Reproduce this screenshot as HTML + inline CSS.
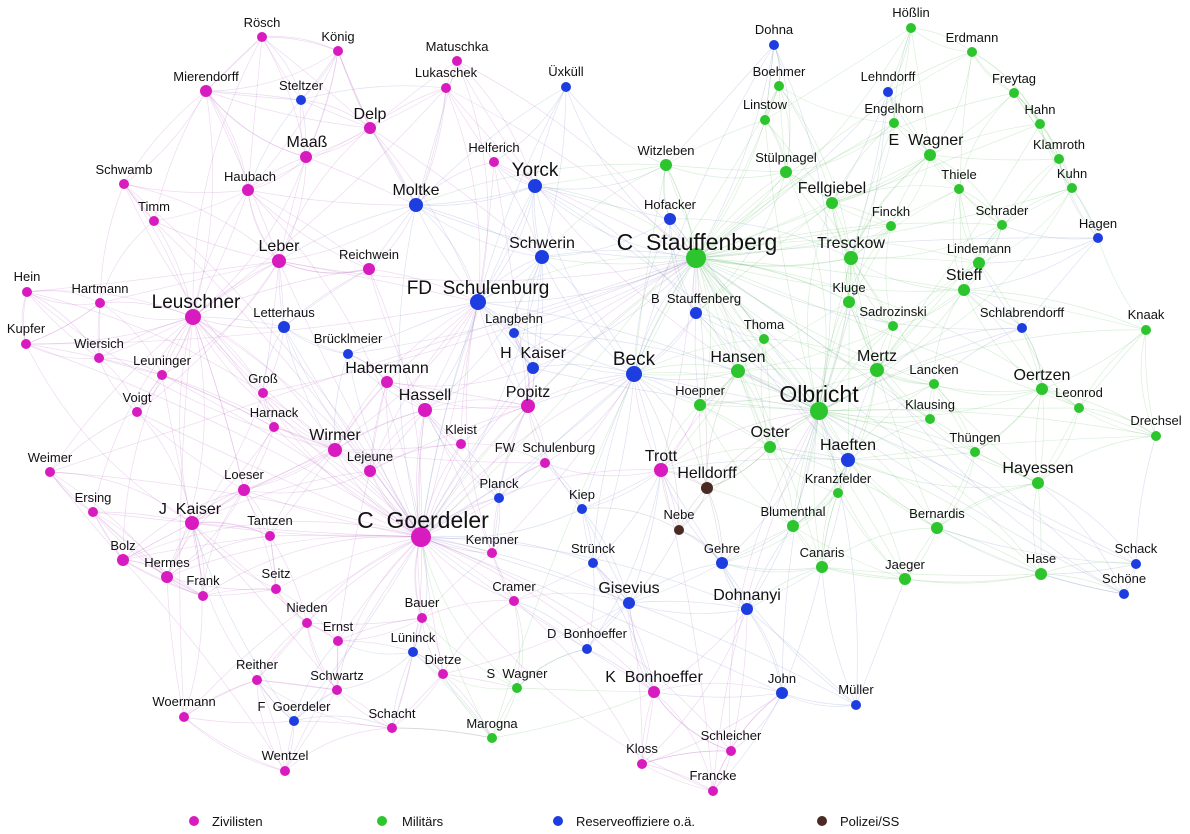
<!DOCTYPE html>
<html><head><meta charset="utf-8"><style>
html,body{margin:0;padding:0;background:#fff}
svg{display:block}
text{font-family:"Liberation Sans",Arial,sans-serif;fill:#111;text-anchor:middle;white-space:pre}
.s{font-size:13px}.m{font-size:16px}.l{font-size:19px}.xl{font-size:23px}
</style></head><body>
<svg id="g" width="1190" height="834" viewBox="0 0 1190 834" xmlns="http://www.w3.org/2000/svg">
<g id="edges" fill="none"></g>
<g id="nodes">
<circle cx="262" cy="37" r="5" fill="#d81bbf"/><text class="s" x="262" y="27">Rösch</text>
<circle cx="338" cy="51" r="5" fill="#d81bbf"/><text class="s" x="338" y="41">König</text>
<circle cx="457" cy="61" r="5" fill="#d81bbf"/><text class="s" x="457" y="51">Matuschka</text>
<circle cx="206" cy="91" r="6" fill="#d81bbf"/><text class="s" x="206" y="81">Mierendorff</text>
<circle cx="446" cy="88" r="5" fill="#d81bbf"/><text class="s" x="446" y="77">Lukaschek</text>
<circle cx="370" cy="128" r="6" fill="#d81bbf"/><text class="m" x="370" y="119">Delp</text>
<circle cx="306" cy="157" r="6" fill="#d81bbf"/><text class="m" x="307" y="147">Maaß</text>
<circle cx="494" cy="162" r="5" fill="#d81bbf"/><text class="s" x="494" y="152">Helferich</text>
<circle cx="124" cy="184" r="5" fill="#d81bbf"/><text class="s" x="124" y="174">Schwamb</text>
<circle cx="248" cy="190" r="6" fill="#d81bbf"/><text class="s" x="250" y="181">Haubach</text>
<circle cx="154" cy="221" r="5" fill="#d81bbf"/><text class="s" x="154" y="211">Timm</text>
<circle cx="279" cy="261" r="7" fill="#d81bbf"/><text class="m" x="279" y="251">Leber</text>
<circle cx="369" cy="269" r="6" fill="#d81bbf"/><text class="s" x="369" y="259">Reichwein</text>
<circle cx="27" cy="292" r="5" fill="#d81bbf"/><text class="s" x="27" y="281">Hein</text>
<circle cx="100" cy="303" r="5" fill="#d81bbf"/><text class="s" x="100" y="293">Hartmann</text>
<circle cx="193" cy="317" r="8" fill="#d81bbf"/><text class="l" x="196" y="308">Leuschner</text>
<circle cx="26" cy="344" r="5" fill="#d81bbf"/><text class="s" x="26" y="333">Kupfer</text>
<circle cx="99" cy="358" r="5" fill="#d81bbf"/><text class="s" x="99" y="348">Wiersich</text>
<circle cx="162" cy="375" r="5" fill="#d81bbf"/><text class="s" x="162" y="365">Leuninger</text>
<circle cx="387" cy="382" r="6" fill="#d81bbf"/><text class="m" x="387" y="373">Habermann</text>
<circle cx="263" cy="393" r="5" fill="#d81bbf"/><text class="s" x="263" y="383">Groß</text>
<circle cx="137" cy="412" r="5" fill="#d81bbf"/><text class="s" x="137" y="402">Voigt</text>
<circle cx="425" cy="410" r="7" fill="#d81bbf"/><text class="m" x="425" y="400">Hassell</text>
<circle cx="528" cy="406" r="7" fill="#d81bbf"/><text class="m" x="528" y="397">Popitz</text>
<circle cx="274" cy="427" r="5" fill="#d81bbf"/><text class="s" x="274" y="417">Harnack</text>
<circle cx="461" cy="444" r="5" fill="#d81bbf"/><text class="s" x="461" y="434">Kleist</text>
<circle cx="335" cy="450" r="7" fill="#d81bbf"/><text class="m" x="335" y="440">Wirmer</text>
<circle cx="370" cy="471" r="6" fill="#d81bbf"/><text class="s" x="370" y="461">Lejeune</text>
<circle cx="50" cy="472" r="5" fill="#d81bbf"/><text class="s" x="50" y="462">Weimer</text>
<circle cx="545" cy="463" r="5" fill="#d81bbf"/><text class="s" x="545" y="452">FW  Schulenburg</text>
<circle cx="661" cy="470" r="7" fill="#d81bbf"/><text class="m" x="661" y="461">Trott</text>
<circle cx="244" cy="490" r="6" fill="#d81bbf"/><text class="s" x="244" y="479">Loeser</text>
<circle cx="93" cy="512" r="5" fill="#d81bbf"/><text class="s" x="93" y="502">Ersing</text>
<circle cx="192" cy="523" r="7" fill="#d81bbf"/><text class="m" x="190" y="514">J  Kaiser</text>
<circle cx="270" cy="536" r="5" fill="#d81bbf"/><text class="s" x="270" y="525">Tantzen</text>
<circle cx="421" cy="537" r="10" fill="#d81bbf"/><text class="xl" x="423" y="528">C  Goerdeler</text>
<circle cx="492" cy="553" r="5" fill="#d81bbf"/><text class="s" x="492" y="544">Kempner</text>
<circle cx="123" cy="560" r="6" fill="#d81bbf"/><text class="s" x="123" y="550">Bolz</text>
<circle cx="167" cy="577" r="6" fill="#d81bbf"/><text class="s" x="167" y="567">Hermes</text>
<circle cx="203" cy="596" r="5" fill="#d81bbf"/><text class="s" x="203" y="585">Frank</text>
<circle cx="276" cy="589" r="5" fill="#d81bbf"/><text class="s" x="276" y="578">Seitz</text>
<circle cx="514" cy="601" r="5" fill="#d81bbf"/><text class="s" x="514" y="591">Cramer</text>
<circle cx="422" cy="618" r="5" fill="#d81bbf"/><text class="s" x="422" y="607">Bauer</text>
<circle cx="307" cy="623" r="5" fill="#d81bbf"/><text class="s" x="307" y="612">Nieden</text>
<circle cx="338" cy="641" r="5" fill="#d81bbf"/><text class="s" x="338" y="631">Ernst</text>
<circle cx="443" cy="674" r="5" fill="#d81bbf"/><text class="s" x="443" y="664">Dietze</text>
<circle cx="257" cy="680" r="5" fill="#d81bbf"/><text class="s" x="257" y="669">Reither</text>
<circle cx="337" cy="690" r="5" fill="#d81bbf"/><text class="s" x="337" y="680">Schwartz</text>
<circle cx="654" cy="692" r="6" fill="#d81bbf"/><text class="m" x="654" y="682">K  Bonhoeffer</text>
<circle cx="184" cy="717" r="5" fill="#d81bbf"/><text class="s" x="184" y="706">Woermann</text>
<circle cx="392" cy="728" r="5" fill="#d81bbf"/><text class="s" x="392" y="718">Schacht</text>
<circle cx="285" cy="771" r="5" fill="#d81bbf"/><text class="s" x="285" y="760">Wentzel</text>
<circle cx="642" cy="764" r="5" fill="#d81bbf"/><text class="s" x="642" y="753">Kloss</text>
<circle cx="731" cy="751" r="5" fill="#d81bbf"/><text class="s" x="731" y="740">Schleicher</text>
<circle cx="713" cy="791" r="5" fill="#d81bbf"/><text class="s" x="713" y="780">Francke</text>
<circle cx="774" cy="45" r="5" fill="#1d3de0"/><text class="s" x="774" y="34">Dohna</text>
<circle cx="566" cy="87" r="5" fill="#1d3de0"/><text class="s" x="566" y="76">Üxküll</text>
<circle cx="301" cy="100" r="5" fill="#1d3de0"/><text class="s" x="301" y="90">Steltzer</text>
<circle cx="888" cy="92" r="5" fill="#1d3de0"/><text class="s" x="888" y="81">Lehndorff</text>
<circle cx="535" cy="186" r="7" fill="#1d3de0"/><text class="l" x="535" y="176">Yorck</text>
<circle cx="416" cy="205" r="7" fill="#1d3de0"/><text class="m" x="416" y="195">Moltke</text>
<circle cx="670" cy="219" r="6" fill="#1d3de0"/><text class="s" x="670" y="209">Hofacker</text>
<circle cx="542" cy="257" r="7" fill="#1d3de0"/><text class="m" x="542" y="248">Schwerin</text>
<circle cx="1098" cy="238" r="5" fill="#1d3de0"/><text class="s" x="1098" y="228">Hagen</text>
<circle cx="478" cy="302" r="8" fill="#1d3de0"/><text class="l" x="478" y="294">FD  Schulenburg</text>
<circle cx="696" cy="313" r="6" fill="#1d3de0"/><text class="s" x="696" y="303">B  Stauffenberg</text>
<circle cx="284" cy="327" r="6" fill="#1d3de0"/><text class="s" x="284" y="317">Letterhaus</text>
<circle cx="514" cy="333" r="5" fill="#1d3de0"/><text class="s" x="514" y="323">Langbehn</text>
<circle cx="1022" cy="328" r="5" fill="#1d3de0"/><text class="s" x="1022" y="317">Schlabrendorff</text>
<circle cx="348" cy="354" r="5" fill="#1d3de0"/><text class="s" x="348" y="343">Brücklmeier</text>
<circle cx="533" cy="368" r="6" fill="#1d3de0"/><text class="m" x="533" y="358">H  Kaiser</text>
<circle cx="634" cy="374" r="8" fill="#1d3de0"/><text class="l" x="634" y="365">Beck</text>
<circle cx="848" cy="460" r="7" fill="#1d3de0"/><text class="m" x="848" y="450">Haeften</text>
<circle cx="499" cy="498" r="5" fill="#1d3de0"/><text class="s" x="499" y="488">Planck</text>
<circle cx="582" cy="509" r="5" fill="#1d3de0"/><text class="s" x="582" y="499">Kiep</text>
<circle cx="593" cy="563" r="5" fill="#1d3de0"/><text class="s" x="593" y="553">Strünck</text>
<circle cx="722" cy="563" r="6" fill="#1d3de0"/><text class="s" x="722" y="553">Gehre</text>
<circle cx="1136" cy="564" r="5" fill="#1d3de0"/><text class="s" x="1136" y="553">Schack</text>
<circle cx="629" cy="603" r="6" fill="#1d3de0"/><text class="m" x="629" y="593">Gisevius</text>
<circle cx="747" cy="609" r="6" fill="#1d3de0"/><text class="m" x="747" y="600">Dohnanyi</text>
<circle cx="1124" cy="594" r="5" fill="#1d3de0"/><text class="s" x="1124" y="583">Schöne</text>
<circle cx="587" cy="649" r="5" fill="#1d3de0"/><text class="s" x="587" y="638">D  Bonhoeffer</text>
<circle cx="413" cy="652" r="5" fill="#1d3de0"/><text class="s" x="413" y="642">Lüninck</text>
<circle cx="782" cy="693" r="6" fill="#1d3de0"/><text class="s" x="782" y="683">John</text>
<circle cx="856" cy="705" r="5" fill="#1d3de0"/><text class="s" x="856" y="694">Müller</text>
<circle cx="294" cy="721" r="5" fill="#1d3de0"/><text class="s" x="294" y="711">F  Goerdeler</text>
<circle cx="911" cy="28" r="5" fill="#2dc52d"/><text class="s" x="911" y="17">Hößlin</text>
<circle cx="972" cy="52" r="5" fill="#2dc52d"/><text class="s" x="972" y="42">Erdmann</text>
<circle cx="779" cy="86" r="5" fill="#2dc52d"/><text class="s" x="779" y="76">Boehmer</text>
<circle cx="1014" cy="93" r="5" fill="#2dc52d"/><text class="s" x="1014" y="83">Freytag</text>
<circle cx="765" cy="120" r="5" fill="#2dc52d"/><text class="s" x="765" y="109">Linstow</text>
<circle cx="894" cy="123" r="5" fill="#2dc52d"/><text class="s" x="894" y="113">Engelhorn</text>
<circle cx="1040" cy="124" r="5" fill="#2dc52d"/><text class="s" x="1040" y="114">Hahn</text>
<circle cx="1059" cy="159" r="5" fill="#2dc52d"/><text class="s" x="1059" y="149">Klamroth</text>
<circle cx="930" cy="155" r="6" fill="#2dc52d"/><text class="m" x="926" y="145">E  Wagner</text>
<circle cx="666" cy="165" r="6" fill="#2dc52d"/><text class="s" x="666" y="155">Witzleben</text>
<circle cx="786" cy="172" r="6" fill="#2dc52d"/><text class="s" x="786" y="162">Stülpnagel</text>
<circle cx="959" cy="189" r="5" fill="#2dc52d"/><text class="s" x="959" y="179">Thiele</text>
<circle cx="1072" cy="188" r="5" fill="#2dc52d"/><text class="s" x="1072" y="178">Kuhn</text>
<circle cx="832" cy="203" r="6" fill="#2dc52d"/><text class="m" x="832" y="193">Fellgiebel</text>
<circle cx="891" cy="226" r="5" fill="#2dc52d"/><text class="s" x="891" y="216">Finckh</text>
<circle cx="1002" cy="225" r="5" fill="#2dc52d"/><text class="s" x="1002" y="215">Schrader</text>
<circle cx="696" cy="258" r="10" fill="#2dc52d"/><text class="xl" x="697" y="250">C  Stauffenberg</text>
<circle cx="851" cy="258" r="7" fill="#2dc52d"/><text class="m" x="851" y="248">Tresckow</text>
<circle cx="979" cy="263" r="6" fill="#2dc52d"/><text class="s" x="979" y="253">Lindemann</text>
<circle cx="964" cy="290" r="6" fill="#2dc52d"/><text class="m" x="964" y="280">Stieff</text>
<circle cx="849" cy="302" r="6" fill="#2dc52d"/><text class="s" x="849" y="292">Kluge</text>
<circle cx="893" cy="326" r="5" fill="#2dc52d"/><text class="s" x="893" y="316">Sadrozinski</text>
<circle cx="1146" cy="330" r="5" fill="#2dc52d"/><text class="s" x="1146" y="319">Knaak</text>
<circle cx="764" cy="339" r="5" fill="#2dc52d"/><text class="s" x="764" y="329">Thoma</text>
<circle cx="738" cy="371" r="7" fill="#2dc52d"/><text class="m" x="738" y="362">Hansen</text>
<circle cx="877" cy="370" r="7" fill="#2dc52d"/><text class="m" x="877" y="361">Mertz</text>
<circle cx="934" cy="384" r="5" fill="#2dc52d"/><text class="s" x="934" y="374">Lancken</text>
<circle cx="1042" cy="389" r="6" fill="#2dc52d"/><text class="m" x="1042" y="380">Oertzen</text>
<circle cx="819" cy="411" r="9" fill="#2dc52d"/><text class="xl" x="819" y="402">Olbricht</text>
<circle cx="700" cy="405" r="6" fill="#2dc52d"/><text class="s" x="700" y="395">Hoepner</text>
<circle cx="1079" cy="408" r="5" fill="#2dc52d"/><text class="s" x="1079" y="397">Leonrod</text>
<circle cx="930" cy="419" r="5" fill="#2dc52d"/><text class="s" x="930" y="409">Klausing</text>
<circle cx="1156" cy="436" r="5" fill="#2dc52d"/><text class="s" x="1156" y="425">Drechsel</text>
<circle cx="770" cy="447" r="6" fill="#2dc52d"/><text class="m" x="770" y="437">Oster</text>
<circle cx="975" cy="452" r="5" fill="#2dc52d"/><text class="s" x="975" y="442">Thüngen</text>
<circle cx="1038" cy="483" r="6" fill="#2dc52d"/><text class="m" x="1038" y="473">Hayessen</text>
<circle cx="838" cy="493" r="5" fill="#2dc52d"/><text class="s" x="838" y="483">Kranzfelder</text>
<circle cx="937" cy="528" r="6" fill="#2dc52d"/><text class="s" x="937" y="518">Bernardis</text>
<circle cx="793" cy="526" r="6" fill="#2dc52d"/><text class="s" x="793" y="516">Blumenthal</text>
<circle cx="822" cy="567" r="6" fill="#2dc52d"/><text class="s" x="822" y="557">Canaris</text>
<circle cx="905" cy="579" r="6" fill="#2dc52d"/><text class="s" x="905" y="569">Jaeger</text>
<circle cx="1041" cy="574" r="6" fill="#2dc52d"/><text class="s" x="1041" y="563">Hase</text>
<circle cx="517" cy="688" r="5" fill="#2dc52d"/><text class="s" x="517" y="678">S  Wagner</text>
<circle cx="492" cy="738" r="5" fill="#2dc52d"/><text class="s" x="492" y="728">Marogna</text>
<circle cx="707" cy="488" r="6" fill="#4a2a22"/><text class="m" x="707" y="478">Helldorff</text>
<circle cx="679" cy="530" r="5" fill="#4a2a22"/><text class="s" x="679" y="519">Nebe</text>
</g>
<g>
<circle cx="194" cy="821" r="5" fill="#d81bbf"/><text class="s" x="212" y="826" style="text-anchor:start">Zivilisten</text>
<circle cx="382" cy="821" r="5" fill="#2dc52d"/><text class="s" x="402" y="826" style="text-anchor:start">Militärs</text>
<circle cx="558" cy="821" r="5" fill="#1d3de0"/><text class="s" x="576" y="826" style="text-anchor:start">Reserveoffiziere o.ä.</text>
<circle cx="822" cy="821" r="5" fill="#4a2a22"/><text class="s" x="840" y="826" style="text-anchor:start">Polizei/SS</text>
</g>
</svg>
<script>
(function(){
var cs=[].slice.call(document.querySelectorAll('#nodes circle'));
var N=cs.map(function(c){return{x:+c.getAttribute('cx'),y:+c.getAttribute('cy'),r:+c.getAttribute('r'),f:c.getAttribute('fill')};});
var col={'#d81bbf':'#c070c8','#2dc52d':'#70c070','#1d3de0':'#8090c8','#4a2a22':'#908080'};
var g=document.getElementById('edges'),s=7,out='';
function rnd(){s=(s*9301+49297)%233280;return s/233280;}
function edge(a,b){var A=N[a],B=N[b];var mx=(A.x+B.x)/2,my=(A.y+B.y)/2,dx=B.x-A.x,dy=B.y-A.y;var k=(rnd()-0.5)*0.35;
out+='<path d="M'+A.x+' '+A.y+' Q'+(mx-dy*k)+' '+(my+dx*k)+' '+B.x+' '+B.y+'" stroke="'+col[A.f]+'" stroke-opacity="0.26" stroke-width="0.7"/>';}
for(var i=0;i<N.length;i++){
 var d=[];for(var j=0;j<N.length;j++){if(j!=i){var dx=N[i].x-N[j].x,dy=N[i].y-N[j].y;d.push([Math.sqrt(dx*dx+dy*dy)/(N[j].r*N[j].r),j]);}}
 d.sort(function(a,b){return a[0]-b[0];});
 var k=Math.round(N[i].r*1.1);
 for(var t=0;t<k;t++)edge(i,d[t][1]);
 edge(i,d[k+Math.floor(rnd()*10)][1]);
}
g.innerHTML=out;
})();
</script>
</body></html>
